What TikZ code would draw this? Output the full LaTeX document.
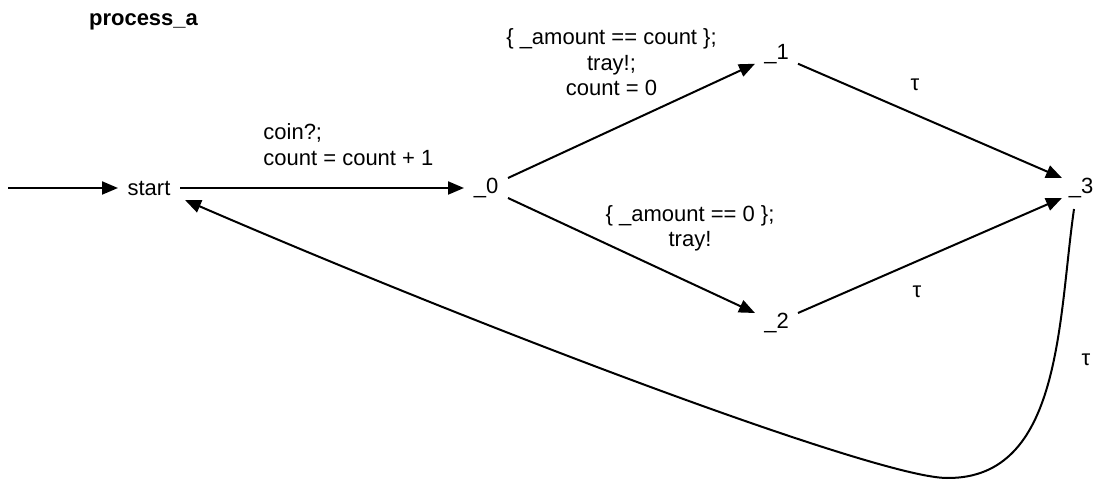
\documentclass[tikz,border=0pt]{standalone}
\usepackage{fontspec}
\setmainfont{Liberation Sans}
\usetikzlibrary{arrows.meta}
\begin{document}
\begin{tikzpicture}[x=0.5pt,y=-0.5pt,
  every node/.style={font=\fontsize{11}{12.75}\selectfont},
  box/.style={inner sep=0pt, outer sep=0pt},
  lbl/.style={inner sep=0pt, align=center},
  conn/.style={line width=1pt, -{Triangle[length=8pt,width=6.5pt]}},
]
\useasboundingbox (0,0) rectangle (1096,480);
\node[lbl, font=\bfseries\fontsize{11}{12.75}\selectfont, anchor=base] (title) at (143.5,26) {process\_a};

\node[box, minimum width=31pt, minimum height=12pt] (start) at (149,188) {start};
\node[box, minimum width=22pt, minimum height=10pt] (n0) at (486,188) {\_0};
\node[box, minimum width=21.5pt, minimum height=8pt] (n1) at (776.5,54) {\_1};
\node[box, minimum width=21.5pt, minimum height=10.5pt] (n2) at (776.5,323.5) {\_2};
\node[box, minimum width=19pt, minimum height=10pt] (n3) at (1081,188) {\_3};

\coordinate (init) at (8,188);
\draw[conn] (init) -- (start);
\draw[conn] (start) -- (n0);
\draw[conn] (n0.north east) -- (n1.south west);
\draw[conn] (n0.south east) -- (n2.north west);
\draw[conn] (n1.south east) -- (n3.north west);
\draw[conn] (n2.north east) -- (n3.south west);
\draw[conn] ([shift={(-7,11)}]n3.south) .. controls (1058,320) and (1062,479) .. (947,478)
   .. controls (880,478) and (500,336) .. ([xshift=2.5pt]start.south east);

\node[lbl, anchor=west, align=left] (l0) at (263,144.5) {coin?;\\count = count + 1};
\node[lbl] (l1) at (611.5,62.5) {\{ \_amount == count \};\\tray!;\\count = 0};
\node[lbl] (l2) at (690,228.5) {\{ \_amount == 0 \};\\tray!};
\node[lbl] (t1) at (915,85) {τ};
\node[lbl] (t2) at (917,292) {τ};
\node[lbl] (t3) at (1086,360) {τ};
\end{tikzpicture}
\end{document}
